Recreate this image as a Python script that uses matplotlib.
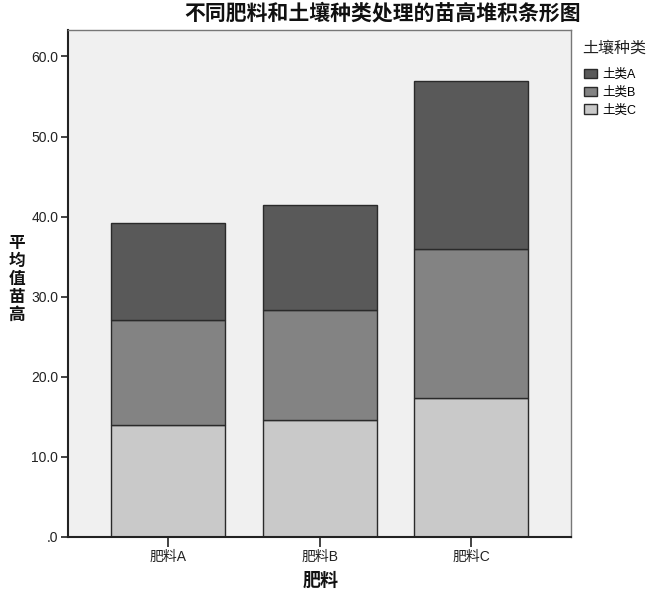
import matplotlib

matplotlib.use("Agg")
import matplotlib.pyplot as plt
import numpy as np

plt.rcParams["font.family"] = ["Liberation Sans", "Noto Sans CJK SC", "DejaVu Sans"]

fertilizers = ["肥料A", "肥料B", "肥料C"]
soil_types = ["土类A", "土类B", "土类C"]
# mean seedling height per segment, bottom segment (土类C) first
soil_c = [14.0, 14.6, 17.3]
soil_b = [13.05, 13.8, 18.7]
soil_a = [12.15, 13.0, 20.9]
colors = {"土类A": "#595959", "土类B": "#838383", "土类C": "#c9c9c9"}
y_ticks = [0, 10, 20, 30, 40, 50, 60]

fig = plt.figure(figsize=(6.5, 5.94), dpi=100)
ax = fig.add_axes([0.1046, 0.096, 0.774, 0.8535])
ax.set_facecolor("#f0f0f0")

positions = np.arange(len(fertilizers))
width = 0.755
bottom = np.zeros(len(fertilizers))
handles = {}
for name, values in (("土类C", soil_c), ("土类B", soil_b), ("土类A", soil_a)):
    bars = ax.bar(positions, values, width=width, bottom=bottom,
                  color=colors[name], edgecolor="#2a2a2a", linewidth=1.0)
    handles[name] = bars
    bottom += np.array(values)

ax.set_xlim(-0.662, 2.659)
ax.set_ylim(0, 63.3)
ax.set_yticks(y_ticks, [f"{v:.1f}" if v else ".0" for v in y_ticks], fontsize=10)
ax.set_xticks(positions, fertilizers, fontsize=10)
ax.tick_params(axis="both", direction="out", width=1.2, colors="#222222")
ax.tick_params(axis="y", length=5, pad=2)
ax.tick_params(axis="x", length=7, pad=2)
for spine in ax.spines.values():
    spine.set_color("#777777")
    spine.set_linewidth(1.0)
ax.spines["left"].set_color("#222222")
ax.spines["bottom"].set_color("#222222")
ax.spines["left"].set_linewidth(1.5)
ax.spines["bottom"].set_linewidth(1.5)

fig.text(0.589, 0.995, "不同肥料和土壤种类处理的苗高堆积条形图", ha="center", va="top",
         fontsize=15, fontweight="bold", color="#111111")
fig.text(0.026, 0.529, "平\n均\n值\n苗\n高", ha="center", va="center",
         fontsize=12, fontweight="bold", linespacing=1.22, color="#111111")
fig.text(0.493, 0.022, "肥料", ha="center", va="center",
         fontsize=13, fontweight="bold", color="#111111")

# legend title placed on its own to get the wider gap above the entries
fig.text(0.895, 0.919, "土壤种类", ha="left", va="center",
         fontsize=11.5, color="#222222")
legend = fig.legend([handles[n] for n in soil_types], soil_types,
                    loc="upper left", bbox_to_anchor=(0.899, 0.884),
                    frameon=False, fontsize=9, handlelength=1.05,
                    handleheight=0.8, handletextpad=0.35, labelspacing=0.45,
                    borderaxespad=0.0, borderpad=0.0)

fig.savefig("out.png", dpi=100)
